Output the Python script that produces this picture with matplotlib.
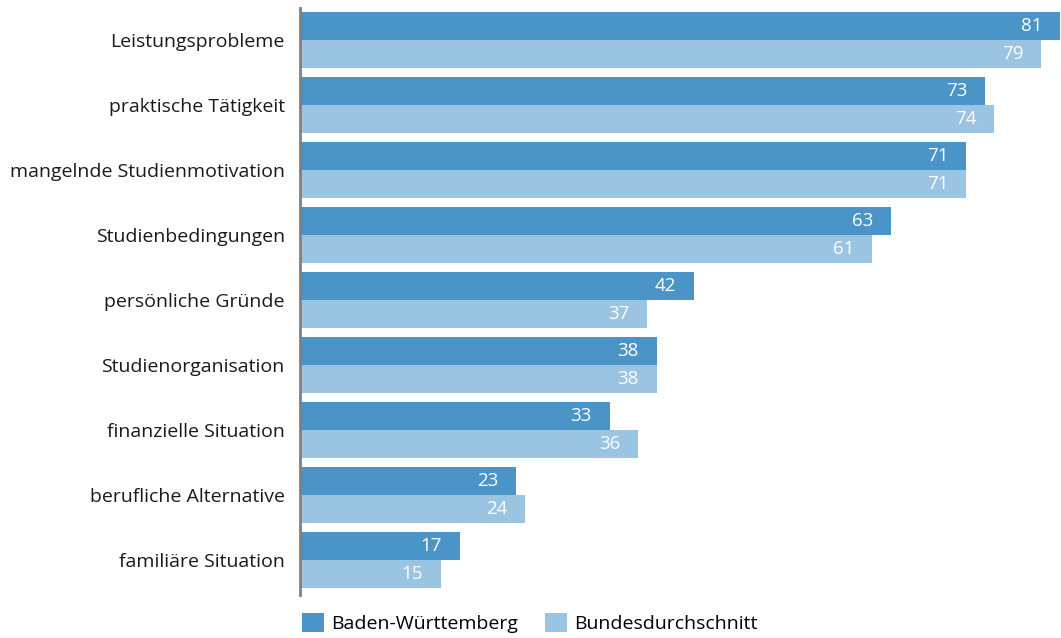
import matplotlib.pyplot as plt
import numpy as np

categories = ['Leistungsprobleme', 'praktische Tätigkeit', 'mangelnde Studienmotivation',
              'Studienbedingungen', 'persönliche Gründe', 'Studienorganisation',
              'finanzielle Situation', 'berufliche Alternative', 'familiäre Situation']
bw = [81, 73, 71, 63, 42, 38, 33, 23, 17]
bund = [79, 74, 71, 61, 37, 38, 36, 24, 15]
series_names = ['Baden-Württemberg', 'Bundesdurchschnitt']

dark = '#4a94c8'
light = '#9bc3e2'

plt.rcParams['font.family'] = ['Open Sans', 'DejaVu Sans']

fig = plt.figure(figsize=(10.61, 6.38), dpi=100)
ax = fig.add_axes([300 / 1061, 1 - 595 / 638, 760 / 1061, 587 / 638])

y = np.arange(len(categories))
h = 28 / 65
b1 = ax.barh(y - h / 2, bw, height=h, color=dark, label=series_names[0])
b2 = ax.barh(y + h / 2, bund, height=h, color=light, label=series_names[1])

# value labels inside the bar ends
for bars, vals in [(b1, bw), (b2, bund)]:
    for bar, v in zip(bars, vals):
        ax.text(v - 1.9, bar.get_y() + bar.get_height() / 2, str(v),
                ha='right', va='center', color='white', fontsize=13.5)

ax.set_xlim(0, 81)
ax.set_ylim(8.54, -0.49)
ax.set_yticks(y)
ax.set_yticklabels(categories, fontsize=14, color='#1a1a1a')
ax.tick_params(axis='y', length=0, pad=11)
ax.set_xticks([])
for s in ['top', 'right', 'bottom']:
    ax.spines[s].set_visible(False)
ax.spines['left'].set_color('#808080')
ax.spines['left'].set_linewidth(2)

fig.legend(handles=[b1, b2], loc='lower left', bbox_to_anchor=(284 / 1061, -0.02),
           ncol=2, frameon=False, fontsize=14, handlelength=1.15, handleheight=1.15,
           handletextpad=0.35, columnspacing=1.4)

fig.savefig('out.png', dpi=100)
